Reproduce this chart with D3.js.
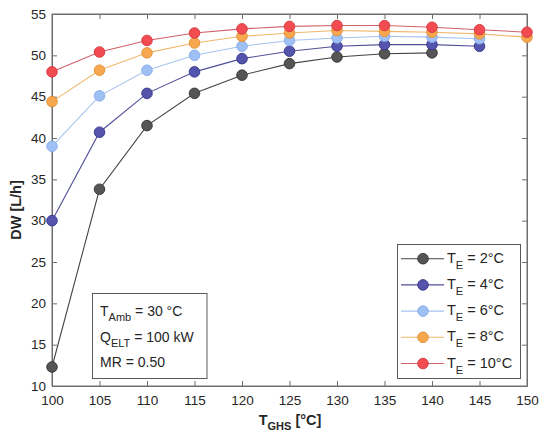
<!DOCTYPE html>
<html><head><meta charset="utf-8">
<script src="https://cdn.jsdelivr.net/npm/d3@7"></script>
<style>body{margin:0;background:#fff}svg{font-family:"Liberation Sans",Arial,sans-serif}</style>
</head><body><svg id="c" width="550" height="448"></svg>
<script>
const xTicks = [100,105,110,115,120,125,130,135,140,145,150];
const yTicks = [10,15,20,25,30,35,40,45,50,55];
const tghs = [100,105,110,115,120,125,130,135,140,145,150];
const seriesLabels = ["2°C","4°C","6°C","8°C","10°C"];
const te2  = [12.3,33.8,41.5,45.4,47.6,49.0,49.8,50.2,50.3];
const te4  = [30.0,40.7,45.4,48.0,49.6,50.5,51.1,51.3,51.3,51.1];
const te6  = [39.0,45.1,48.2,50.0,51.1,51.8,52.1,52.3,52.2,52.0];
const te8  = [44.4,48.2,50.3,51.5,52.3,52.7,53.0,52.9,52.8,52.6,52.2];
const te10 = [48.0,50.4,51.8,52.7,53.2,53.5,53.6,53.6,53.4,53.1,52.8];
const fills = ["#555555","#5454ad","#9fc0f5","#f7a84e","#f24b52"];
const strokesM = ["#333333","#34348a","#86a9e6","#e08f34","#d33a40"];
const lineCols = ["#444444","#505098","#a6c3f0","#efb76e","#d0626a"];
const allSeries = [te2,te4,te6,te8,te10];

const svg = d3.select("#c");
const L=52, R=527, T=14, B=386;
const x = d3.scaleLinear().domain([100,150]).range([L,R]);
const y = d3.scaleLinear().domain([10,55]).range([B,T]);
const axCol="#6e6e6e";

svg.append("rect").attr("x",L).attr("y",T).attr("width",R-L).attr("height",B-T).attr("fill","#fff");

// axes
const gx = svg.append("g").attr("transform",`translate(0,${B})`).call(d3.axisBottom(x).tickValues(xTicks).tickSizeInner(-5).tickSizeOuter(0).tickPadding(9));
const gxt = svg.append("g").attr("transform",`translate(0,${T})`).call(d3.axisTop(x).tickValues(xTicks).tickSizeInner(-5).tickSizeOuter(0).tickFormat(""));
const gy = svg.append("g").attr("transform",`translate(${L},0)`).call(d3.axisLeft(y).tickValues(yTicks).tickSizeInner(-5).tickSizeOuter(0).tickPadding(6));
const gyr = svg.append("g").attr("transform",`translate(${R},0)`).call(d3.axisRight(y).tickValues(yTicks).tickSizeInner(-5).tickSizeOuter(0).tickFormat(""));
[gx,gxt,gy,gyr].forEach(g=>{
  g.selectAll("path").attr("stroke",axCol).attr("stroke-width",1);
  g.selectAll("line").attr("stroke",axCol);
  g.selectAll("text").attr("fill","#262626").attr("font-size",13.5);
});
svg.append("rect").attr("x",L).attr("y",T).attr("width",R-L).attr("height",B-T).attr("fill","none").attr("stroke",axCol);

// series
const line = d3.line().x((d,i)=>x(tghs[i])).y(d=>y(d));
allSeries.forEach((s,k)=>{
  svg.append("path").datum(s).attr("d",line).attr("fill","none").attr("stroke",lineCols[k]).attr("stroke-width",1.1);
});
allSeries.forEach((s,k)=>{
  svg.append("g").selectAll("circle").data(s).join("circle")
    .attr("cx",(d,i)=>x(tghs[i])).attr("cy",d=>y(d)).attr("r",5.3)
    .attr("fill",fills[k]).attr("stroke",strokesM[k]).attr("stroke-width",0.9);
});

// axis labels
svg.append("text").attr("transform","translate(21,210) rotate(-90)").attr("text-anchor","middle")
  .attr("font-weight","bold").attr("font-size",14.5).attr("fill","#262626").text("DW [L/h]");
const xl = svg.append("text").attr("x",290).attr("y",425).attr("text-anchor","middle")
  .attr("font-weight","bold").attr("font-size",14.5).attr("fill","#262626");
xl.append("tspan").text("T");
xl.append("tspan").attr("font-size",11).attr("dy",5).text("GHS");
xl.append("tspan").attr("dy",-5).text(" [°C]");

// info box
svg.append("rect").attr("x",92.5).attr("y",293.5).attr("width",114.5).attr("height",85).attr("fill","#fff").attr("stroke","#5a5a5a");
const info=[["T","Amb"," = 30 °C"],["Q","ELT"," = 100 kW"],["MR","", " = 0.50"]];
info.forEach((r,i)=>{
  const t=svg.append("text").attr("x",100).attr("y",316+i*25.5).attr("font-size",14).attr("fill","#262626");
  t.append("tspan").text(r[0]);
  if(r[1]){t.append("tspan").attr("font-size",11).attr("dy",5).text(r[1]); t.append("tspan").attr("dy",-5).text(r[2]);}
  else t.append("tspan").text(r[2]);
});

// legend
svg.append("rect").attr("x",397.5).attr("y",244.5).attr("width",123).attr("height",134).attr("fill","#fff").attr("stroke","#5a5a5a");
seriesLabels.forEach((lab,k)=>{
  const yy=258.7+k*26.2;
  svg.append("line").attr("x1",401).attr("x2",444).attr("y1",yy).attr("y2",yy).attr("stroke",lineCols[k]).attr("stroke-width",1.1);
  svg.append("circle").attr("cx",423).attr("cy",yy).attr("r",5.3).attr("fill",fills[k]).attr("stroke",strokesM[k]).attr("stroke-width",0.9);
  const t=svg.append("text").attr("x",447).attr("y",yy+4).attr("font-size",14.5).attr("fill","#262626");
  t.append("tspan").text("T");
  t.append("tspan").attr("font-size",11).attr("dy",6).text("E");
  t.append("tspan").attr("dy",-6).text(" = "+lab);
});
</script></body></html>
